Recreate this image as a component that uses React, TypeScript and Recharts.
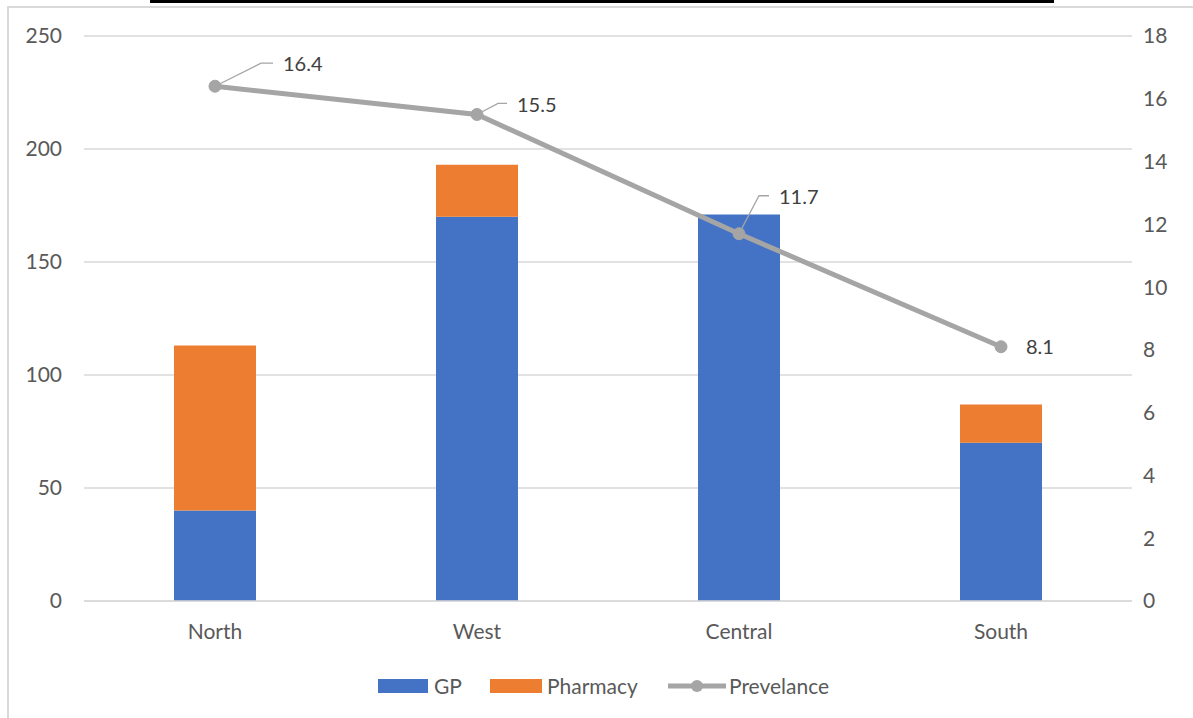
import React from "react";
import {
  ComposedChart,
  Bar,
  Line,
  XAxis,
  YAxis,
  CartesianGrid,
} from "recharts";

const regions = ["North", "West", "Central", "South"];
const gpValues = [40, 170, 171, 70];
const pharmacyValues = [73, 23, 0, 17];
const prevalenceValues = [16.4, 15.5, 11.7, 8.1];
const leftTicks = [0, 50, 100, 150, 200, 250];
const rightTicks = [0, 2, 4, 6, 8, 10, 12, 14, 16, 18];

const data = regions.map((r, i) => ({
  region: r,
  GP: gpValues[i],
  Pharmacy: pharmacyValues[i],
  Prevelance: prevalenceValues[i],
}));

// label leader styles (dx, dy to end of diagonal; horizontal length), null = no leader
const leaderStyle: ({ dx: number; dy: number; h: number } | null)[] = [
  { dx: 46, dy: -23, h: 12 },
  { dx: 21, dy: -11, h: 9 },
  { dx: 20, dy: -38, h: 10 },
  null,
];

const FONT = "Lato, 'Liberation Sans', sans-serif";
const TXT = "#595959";
const FS = 21;

const PrevLabel = (props: any) => {
  const { x, y, value, index } = props;
  const s = leaderStyle[index];
  if (!s) {
    return (
      <text x={x + 25} y={y + 2} dominantBaseline="middle" fill="#404040" fontSize={20} fontFamily={FONT}>
        {value}
      </text>
    );
  }
  const ex = x + s.dx;
  const ey = y + s.dy;
  return (
    <g>
      <polyline
        points={`${x},${y} ${ex},${ey} ${ex + s.h},${ey}`}
        fill="none"
        stroke="#A5A5A5"
        strokeWidth={1.3}
      />
      <text x={ex + s.h + 10} y={ey + 3} dominantBaseline="middle" fill="#404040" fontSize={20} fontFamily={FONT}>
        {value}
      </text>
    </g>
  );
};

const legendText: React.CSSProperties = {
  position: "absolute",
  top: 672,
  fontFamily: FONT,
  fontSize: FS,
  color: TXT,
  lineHeight: "28px",
  whiteSpace: "nowrap",
};

export default function App() {
  return (
    <div style={{ position: "absolute", left: 0, top: 0, width: 1193, height: 718, background: "#fff", overflow: "hidden" }}>
      <div style={{ position: "absolute", left: 150, top: 0, width: 904, height: 3, background: "#000" }} />
      <div
        style={{
          position: "absolute",
          left: 7,
          top: 6,
          width: 1200,
          height: 720,
          border: "2px solid #d9d9d9",
          boxSizing: "border-box",
        }}
      />
      <div style={{ position: "absolute", left: 0, top: 0 }}>
        <ComposedChart
          width={1193}
          height={718}
          data={data}
          margin={{ top: 36, right: 0, left: 0, bottom: 77 }}
          barCategoryGap={0}
        >
          <CartesianGrid yAxisId="left" vertical={false} stroke="#d9d9d9" strokeWidth={1.5} />
          <XAxis
            dataKey="region"
            axisLine={{ stroke: "#d9d9d9", strokeWidth: 1.5 }}
            tickLine={false}
            tickSize={0}
            tickMargin={23}
            height={40}
            tick={{ fill: TXT, fontSize: FS, fontFamily: FONT }}
          />
          <YAxis
            yAxisId="left"
            domain={[0, 250]}
            ticks={leftTicks}
            width={84}
            axisLine={false}
            tickLine={false}
            tickSize={0}
            tickMargin={22}
            tick={{ fill: TXT, fontSize: FS, fontFamily: FONT }}
          />
          <YAxis
            yAxisId="right"
            orientation="right"
            domain={[0, 18]}
            ticks={rightTicks}
            width={61}
            axisLine={false}
            tickLine={false}
            tickSize={0}
            tickMargin={11}
            tick={{ fill: TXT, fontSize: FS, fontFamily: FONT }}
          />
          <Bar yAxisId="left" dataKey="GP" stackId="a" fill="#4472C4" barSize={82} isAnimationActive={false} />
          <Bar yAxisId="left" dataKey="Pharmacy" stackId="a" fill="#ED7D31" barSize={82} isAnimationActive={false} />
          <Line
            yAxisId="right"
            dataKey="Prevelance"
            stroke="#A5A5A5"
            strokeWidth={5}
            dot={{ r: 6, fill: "#A5A5A5", stroke: "#A5A5A5", strokeWidth: 1 }}
            isAnimationActive={false}
            label={<PrevLabel />}
          />
        </ComposedChart>
      </div>
      <div style={{ position: "absolute", top: 679, left: 378, width: 50, height: 14, background: "#4472C4" }} />
      <div style={{ ...legendText, left: 434 }}>GP</div>
      <div style={{ position: "absolute", top: 679, left: 490, width: 52, height: 14, background: "#ED7D31" }} />
      <div style={{ ...legendText, left: 547 }}>Pharmacy</div>
      <svg width={58} height={14} style={{ position: "absolute", top: 679, left: 668 }}>
        <line x1={0} y1={7} x2={58} y2={7} stroke="#A5A5A5" strokeWidth={5} />
        <circle cx={29} cy={7} r={6} fill="#A5A5A5" />
      </svg>
      <div style={{ ...legendText, left: 729 }}>Prevelance</div>
    </div>
  );
}
